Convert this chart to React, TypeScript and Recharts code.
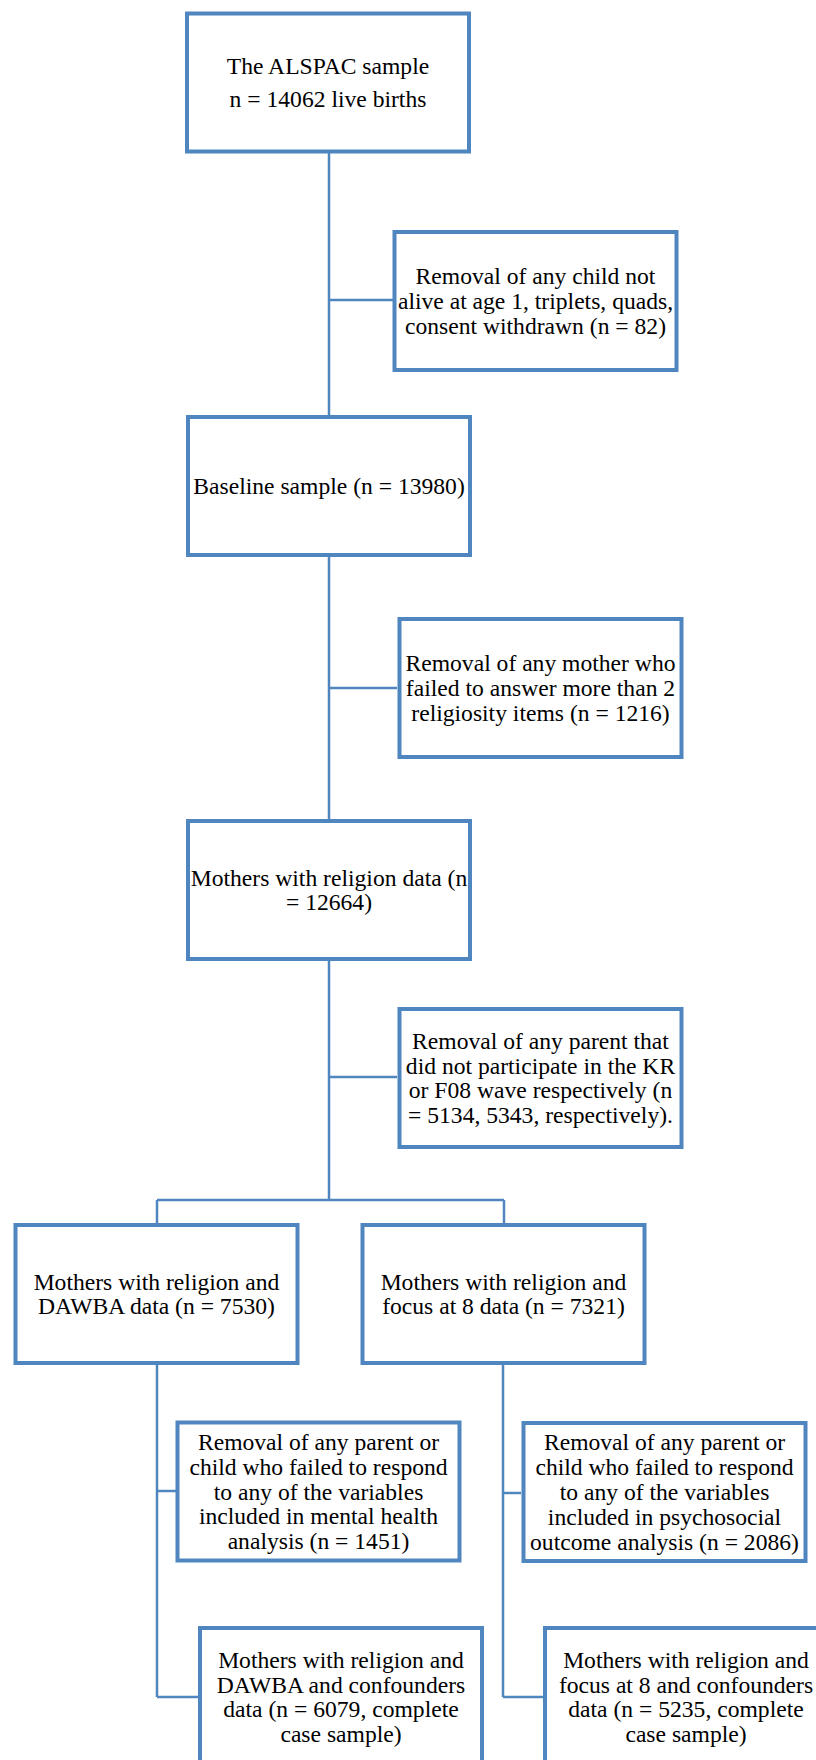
import React from "react";
import {
  ScatterChart,
  Scatter,
  XAxis,
  YAxis,
  ReferenceLine,
} from "recharts";

const W = 816;
const H = 1760;
const BLUE = "#4F86C0";
const FONT = "'Liberation Serif', 'Times New Roman', serif";

// box texts, one entry per box
const labels: string[][] = [
  ["The ALSPAC sample", "n = 14062 live births"],
  ["Removal of any child not", "alive at age 1, triplets, quads,", "consent withdrawn (n = 82)"],
  ["Baseline sample (n = 13980)"],
  ["Removal of any mother who", "failed to answer more than 2", "religiosity items (n = 1216)"],
  ["Mothers with religion data (n", "= 12664)"],
  [
    "Removal of any parent that",
    "did not participate in the KR",
    "or F08 wave respectively (n",
    "= 5134, 5343, respectively).",
  ],
  ["Mothers with religion and", "DAWBA data (n = 7530)"],
  ["Mothers with religion and", "focus at 8 data (n = 7321)"],
  [
    "Removal of any parent or",
    "child who failed to respond",
    "to any of the variables",
    "included in mental health",
    "analysis (n = 1451)",
  ],
  [
    "Removal of any parent or",
    "child who failed to respond",
    "to any of the variables",
    "included in psychosocial",
    "outcome analysis (n = 2086)",
  ],
  [
    "Mothers with religion and",
    "DAWBA and confounders",
    "data (n = 6079, complete",
    "case sample)",
  ],
  [
    "Mothers with religion and",
    "focus at 8 and confounders",
    "data (n = 5235, complete",
    "case sample)",
  ],
];

// box centres in page coordinates
const nodeX = [328, 535.5, 329, 540.5, 329, 540.5, 156.5, 503.5, 318.5, 664.5, 341, 686];
const nodeY = [82.5, 301, 486, 688, 890, 1078, 1294, 1294, 1491.5, 1492, 1697, 1697];

// connector segments [x1, y1, x2, y2]
const links: number[][] = [
  [329, 153, 329, 415],
  [329, 300, 393, 300],
  [329, 557, 329, 819],
  [329, 688, 397, 688],
  [329, 961, 329, 1200],
  [329, 1077, 397, 1077],
  [157, 1200, 504, 1200],
  [157, 1200, 157, 1223],
  [504, 1200, 504, 1223],
  [157, 1365, 157, 1697],
  [157, 1491, 176, 1491],
  [157, 1697, 198, 1697],
  [503, 1365, 503, 1697],
  [503, 1493, 521, 1493],
  [503, 1697, 543, 1697],
];

const nodes = labels.map((lines, i) => ({ x: nodeX[i], y: nodeY[i], lines, idx: i }));

const BOX_W = 282;
const BOX_H = 138;
const FONT_SIZE = 23.6;
const LINE_H = 24.8;

function BoxNode(props: any) {
  const { cx, cy, payload } = props;
  const lines: string[] = payload.lines;
  const lh = payload.idx === 0 ? 33.5 : LINE_H;
  const n = lines.length;
  return (
    <g>
      <rect
        x={cx - BOX_W / 2}
        y={cy - BOX_H / 2}
        width={BOX_W}
        height={BOX_H}
        fill="#fff"
        stroke={BLUE}
        strokeWidth={4}
      />
      <text
        textAnchor="middle"
        fontFamily={FONT}
        fontSize={FONT_SIZE}
        fill="#000"
      >
        {lines.map((t, i) => (
          <tspan key={i} x={cx} y={cy + (i - (n - 1) / 2) * lh + 8}>
            {t}
          </tspan>
        ))}
      </text>
    </g>
  );
}

export default function App() {
  return (
    <div style={{ position: "absolute", left: 0, top: 0, width: W, height: H, background: "#fff" }}>
      <style>{"body{margin:0}"}</style>
      <ScatterChart width={W} height={H} margin={{ top: 0, right: 0, bottom: 0, left: 0 }}>
        <XAxis type="number" dataKey="x" domain={[0, W]} hide allowDataOverflow />
        <YAxis type="number" dataKey="y" domain={[0, H]} reversed hide allowDataOverflow />
        {links.map((l, i) => (
          <ReferenceLine
            key={i}
            segment={[
              { x: l[0], y: l[1] },
              { x: l[2], y: l[3] },
            ]}
            stroke={BLUE}
            strokeWidth={2.5}
            ifOverflow="visible"
          />
        ))}
        <Scatter data={nodes} isAnimationActive={false} shape={<BoxNode />} />
      </ScatterChart>
    </div>
  );
}
